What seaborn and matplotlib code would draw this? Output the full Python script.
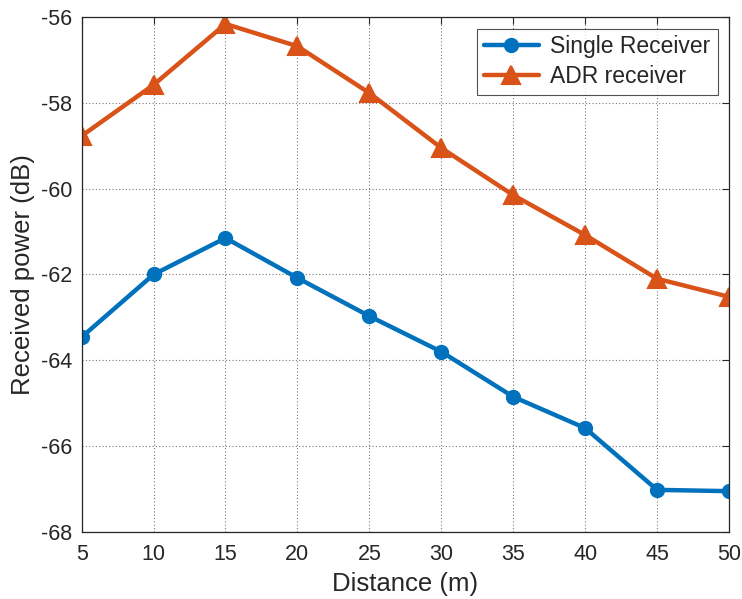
import matplotlib
matplotlib.use("Agg")
import matplotlib.pyplot as plt
import seaborn as sns
import pandas as pd

distance = [5, 10, 15, 20, 25, 30, 35, 40, 45, 50]
single_receiver = [-63.46, -62.0, -61.15, -62.08, -62.97, -63.8, -64.85, -65.58, -67.02, -67.05]
adr_receiver = [-58.77, -57.58, -56.16, -56.68, -57.77, -59.05, -60.15, -61.08, -62.1, -62.52]
series_names = ["Single Receiver", "ADR receiver"]
x_ticks = [5, 10, 15, 20, 25, 30, 35, 40, 45, 50]
y_ticks = [-68, -66, -64, -62, -60, -58, -56]

sns.set_theme(style="white")
plt.rcParams['font.family'] = ['Liberation Sans', 'DejaVu Sans']

df = pd.DataFrame({
    "Distance": distance * 2,
    "Power": single_receiver + adr_receiver,
    "Series": [series_names[0]] * len(distance) + [series_names[1]] * len(distance),
})

fig = plt.figure(figsize=(7.42, 5.99), dpi=100)
ax = fig.add_axes([0.11, 0.112, 0.8725, 0.8595])

palette = {series_names[0]: "#0072BD", series_names[1]: "#D95319"}
markers = {series_names[0]: "o", series_names[1]: "^"}
sns.lineplot(data=df, x="Distance", y="Power", hue="Series", style="Series",
             palette=palette, markers=markers, dashes=False, linewidth=3.2,
             markersize=9.5, markeredgewidth=1.5, ax=ax, legend=False)
for line, name in zip(ax.lines, series_names):
    line.set_label(name)
    line.set_markeredgecolor(palette[name])
    if name == series_names[1]:
        line.set_markersize(13)

ax.set_xlim(5, 50)
ax.set_ylim(-68, -56)
ax.set_xticks(x_ticks)
ax.set_yticks(y_ticks)
ax.set_xticklabels([str(v) for v in x_ticks])
ax.set_yticklabels([str(v) for v in y_ticks])
ax.grid(True, linestyle=(0, (1, 2)), color="#555555", linewidth=0.8, alpha=0.8)
ax.tick_params(direction="in", length=5, width=0.8, top=True, right=True,
               labelsize=15.5, colors="#262626")
ax.tick_params(axis="y", pad=7)
ax.tick_params(axis="x", pad=9)
for s in ax.spines.values():
    s.set_color("#262626")
    s.set_linewidth(0.9)
    s.set_visible(True)
ax.set_xlabel("Distance (m)", fontsize=18.5, color="#262626", labelpad=5)
ax.set_ylabel("Received power (dB)", fontsize=18.5, color="#262626", labelpad=4)
leg = ax.legend(loc="upper right", fontsize=16.5, frameon=True, fancybox=False,
                edgecolor="#262626", borderaxespad=0.5, handlelength=2.4,
                borderpad=0.3, labelspacing=0.3, handletextpad=0.5)
leg.get_frame().set_linewidth(0.8)

fig.savefig("out.png", dpi=100)
